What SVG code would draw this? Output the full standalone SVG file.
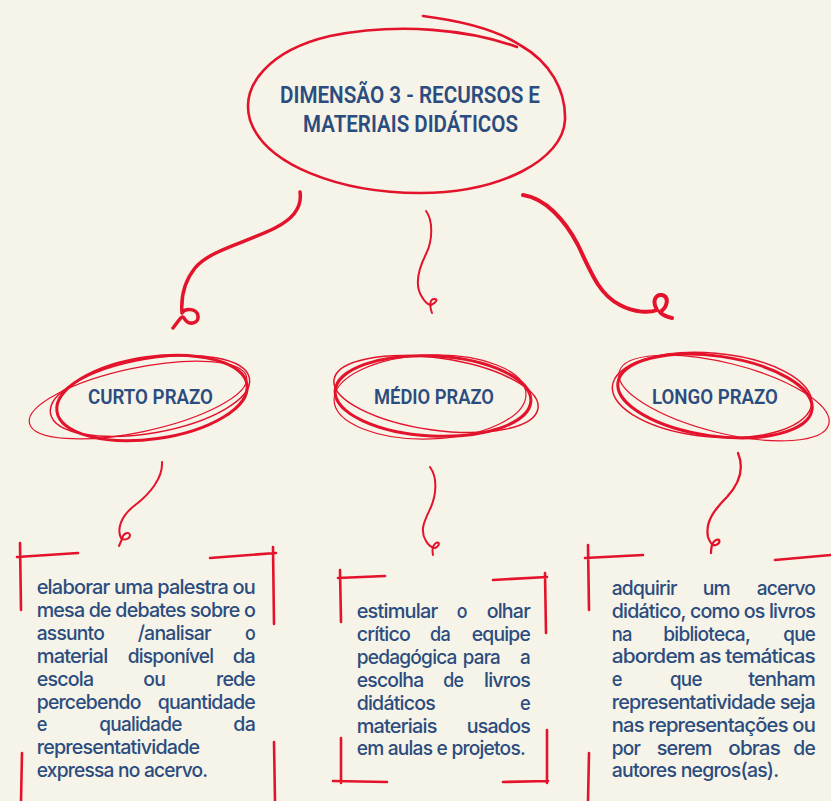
<svg xmlns="http://www.w3.org/2000/svg" width="831" height="801" viewBox="0 0 831 801">
<defs>
<style>
.bg{fill:#f6f3e8}
.red{fill:none;stroke:#e3132c;stroke-linecap:round;stroke-linejoin:round}
.hd{font-family:Roboto,"Liberation Sans",sans-serif;font-weight:600;fill:#2b4c7e}
.t1{font-size:24px}
.t2{font-size:21px}
.bd{font-family:Inter,"Noto Sans","Liberation Sans",sans-serif;font-weight:500;font-size:20px;fill:#2b4c7e;letter-spacing:-0.8px}
</style>
</defs>
<rect class="bg" x="0" y="0" width="831" height="801"/>

<g id="node-title">
<path class="red" stroke-width="2.6" d="M423,16 C470,22 500,32 520,45 C550,62 566,90 565,120 C563,160 500,193 420,193 C340,193 265,165 250,120 C240,85 270,50 330,36 C400,22 470,30 517,47"/>
<text class="hd t1" x="280" y="103" textLength="260" lengthAdjust="spacingAndGlyphs">DIMENSÃO 3 - RECURSOS E</text>
<text class="hd t1" x="303" y="132" textLength="215" lengthAdjust="spacingAndGlyphs">MATERIAIS DIDÁTICOS</text>
</g>

<g id="connectors">
<path class="red" stroke-width="3.5" d="M300,192 C302,205 295,218 275,228 C245,243 210,250 195,268 C183,283 181,300 182,313 C185,308 197,308 198,316 C199,324 188,326 184,318 C182,314 178,322 173,328"/>
<path class="red" stroke-width="2" d="M426,211 C433,220 433,240 426,254 C419,268 414,285 422,297 C425,302 428,305 431,305 C436,303 438,299 435,299 C430,298 429,305 432,313"/>
<path class="red" stroke-width="4" d="M523,195 C545,198 565,220 578,245 C592,275 600,295 620,305 C635,313 650,313 657,310 C652,302 655,294 662,295 C670,297 667,308 660,312 C663,316 667,317 672,318"/>
<path class="red" stroke-width="2" d="M162,462 C163,478 150,494 134,506 C120,517 117,530 121,538 C124,541 130,539 130,535 C129,531 123,533 122,539 L119,546"/>
<path class="red" stroke-width="2" d="M430,467 C438,478 436,495 431,507 C425,520 419,530 426,541 C429,546 432,548 435,548 C440,546 440,541 436,543 C433,545 432,550 433,555"/>
<path class="red" stroke-width="2.3" d="M738,453 C745,470 738,485 727,497 C714,510 705,522 708,537 C710,543 713,546 716,545 C721,543 720,538 716,540 C712,542 711,548 711,553"/>
</g>

<g id="node-curto">
<ellipse class="red" stroke-width="3" cx="152" cy="398" rx="96" ry="41" transform="rotate(-8 152 398)"/>
<ellipse class="red" stroke-width="1.5" cx="150" cy="396" rx="101" ry="37" transform="rotate(-10 150 396)"/>
<ellipse class="red" stroke-width="1.2" cx="138" cy="400" rx="111" ry="32" transform="rotate(-12 138 400)"/>
<text class="hd t2" x="88" y="404" textLength="125" lengthAdjust="spacingAndGlyphs">CURTO PRAZO</text>
</g>

<g id="node-medio">
<ellipse class="red" stroke-width="3" cx="433" cy="396" rx="98" ry="40" transform="rotate(3 433 396)"/>
<ellipse class="red" stroke-width="1.5" cx="436" cy="394" rx="103" ry="36" transform="rotate(8 436 394)"/>
<ellipse class="red" stroke-width="1.2" cx="430" cy="397" rx="96" ry="42" transform="rotate(-2 430 397)"/>
<text class="hd t2" x="374" y="404" textLength="120" lengthAdjust="spacingAndGlyphs">MÉDIO PRAZO</text>
</g>

<g id="node-longo">
<ellipse class="red" stroke-width="3" cx="715" cy="396" rx="98" ry="40" transform="rotate(8 715 396)"/>
<ellipse class="red" stroke-width="1.2" cx="724" cy="398" rx="108" ry="35" transform="rotate(14 724 398)"/>
<ellipse class="red" stroke-width="1.5" cx="712" cy="395" rx="100" ry="42" transform="rotate(5 712 395)"/>
<text class="hd t2" x="652" y="404" textLength="126" lengthAdjust="spacingAndGlyphs">LONGO PRAZO</text>
</g>

<g id="node-box1">
<path class="red" stroke-width="2.6" d="M20,543 L21,610 M17,557 L78,553 M210,558 L276,553 M273,547 L274,624 M22,753 L21,801 M274,742 L275,801"/>
<text class="bd" x="36.7" y="594" textLength="218.3" lengthAdjust="spacingAndGlyphs">elaborar uma palestra ou</text>
<text class="bd" x="36.7" y="617" textLength="218.3" lengthAdjust="spacingAndGlyphs">mesa de debates sobre o</text>
<text class="bd" x="36.7" y="640" textLength="67.3" lengthAdjust="spacingAndGlyphs">assunto</text>
<text class="bd" x="137.7" y="640" textLength="73" lengthAdjust="spacingAndGlyphs">/analisar</text>
<text class="bd" x="245" y="640" textLength="10" lengthAdjust="spacingAndGlyphs">o</text>
<text class="bd" x="36.7" y="663" textLength="70.7" lengthAdjust="spacingAndGlyphs">material</text>
<text class="bd" x="127.7" y="663" textLength="85.7" lengthAdjust="spacingAndGlyphs">disponível</text>
<text class="bd" x="232.7" y="663" textLength="22.3" lengthAdjust="spacingAndGlyphs">da</text>
<text class="bd" x="36.7" y="686" textLength="56.7" lengthAdjust="spacingAndGlyphs">escola</text>
<text class="bd" x="143.3" y="686" textLength="21.7" lengthAdjust="spacingAndGlyphs">ou</text>
<text class="bd" x="216" y="686" textLength="39" lengthAdjust="spacingAndGlyphs">rede</text>
<text class="bd" x="36.7" y="708.5" textLength="104" lengthAdjust="spacingAndGlyphs">percebendo</text>
<text class="bd" x="157.7" y="708.5" textLength="97.3" lengthAdjust="spacingAndGlyphs">quantidade</text>
<text class="bd" x="36.7" y="731" textLength="10" lengthAdjust="spacingAndGlyphs">e</text>
<text class="bd" x="99.3" y="731" textLength="82.3" lengthAdjust="spacingAndGlyphs">qualidade</text>
<text class="bd" x="233.3" y="731" textLength="21.7" lengthAdjust="spacingAndGlyphs">da</text>
<text class="bd" x="36.7" y="754" textLength="162.7" lengthAdjust="spacingAndGlyphs">representatividade</text>
<text class="bd" x="36.7" y="777" textLength="170.7" lengthAdjust="spacingAndGlyphs">expressa no acervo.</text>
</g>

<g id="node-box2">
<path class="red" stroke-width="2.6" d="M340,570 L341,622 M338,578 L385,576 M493,580 L547,577 M545,573 L546,633 M341,738 L341,783 M333,781 L387,782 M547,730 L547,783 M503,782 L548,781"/>
<text class="bd" x="356.7" y="618" textLength="80.7" lengthAdjust="spacingAndGlyphs">estimular</text>
<text class="bd" x="456.7" y="618" textLength="10" lengthAdjust="spacingAndGlyphs">o</text>
<text class="bd" x="486.7" y="618" textLength="43.3" lengthAdjust="spacingAndGlyphs">olhar</text>
<text class="bd" x="356.7" y="640.9" textLength="53.3" lengthAdjust="spacingAndGlyphs">crítico</text>
<text class="bd" x="430" y="640.9" textLength="20" lengthAdjust="spacingAndGlyphs">da</text>
<text class="bd" x="471.7" y="640.9" textLength="58.3" lengthAdjust="spacingAndGlyphs">equipe</text>
<text class="bd" x="356.7" y="663.8" textLength="100" lengthAdjust="spacingAndGlyphs">pedagógica</text>
<text class="bd" x="462.7" y="663.8" textLength="37.3" lengthAdjust="spacingAndGlyphs">para</text>
<text class="bd" x="520" y="663.8" textLength="10" lengthAdjust="spacingAndGlyphs">a</text>
<text class="bd" x="356.7" y="686.7" textLength="66.7" lengthAdjust="spacingAndGlyphs">escolha</text>
<text class="bd" x="443.3" y="686.7" textLength="20" lengthAdjust="spacingAndGlyphs">de</text>
<text class="bd" x="484" y="686.7" textLength="46" lengthAdjust="spacingAndGlyphs">livros</text>
<text class="bd" x="356.7" y="709.6" textLength="78.3" lengthAdjust="spacingAndGlyphs">didáticos</text>
<text class="bd" x="520" y="709.6" textLength="10" lengthAdjust="spacingAndGlyphs">e</text>
<text class="bd" x="356.7" y="732.5" textLength="80" lengthAdjust="spacingAndGlyphs">materiais</text>
<text class="bd" x="466.7" y="732.5" textLength="63.3" lengthAdjust="spacingAndGlyphs">usados</text>
<text class="bd" x="356.7" y="755.4" textLength="168.3" lengthAdjust="spacingAndGlyphs">em aulas e projetos.</text>
</g>

<g id="node-box3">
<path class="red" stroke-width="2.6" d="M588,545 L589,610 M585,558 L643,555 M775,560 L831,555 M589,753 L588,801"/>
<text class="bd" x="611.7" y="595" textLength="65" lengthAdjust="spacingAndGlyphs">adquirir</text>
<text class="bd" x="702.7" y="595" textLength="27.3" lengthAdjust="spacingAndGlyphs">um</text>
<text class="bd" x="756.7" y="595" textLength="58.3" lengthAdjust="spacingAndGlyphs">acervo</text>
<text class="bd" x="611.7" y="617.8" textLength="203.3" lengthAdjust="spacingAndGlyphs">didático, como os livros</text>
<text class="bd" x="611.7" y="640.6" textLength="20" lengthAdjust="spacingAndGlyphs">na</text>
<text class="bd" x="663.3" y="640.6" textLength="86.7" lengthAdjust="spacingAndGlyphs">biblioteca,</text>
<text class="bd" x="783.3" y="640.6" textLength="31.7" lengthAdjust="spacingAndGlyphs">que</text>
<text class="bd" x="611.7" y="663.4" textLength="203.3" lengthAdjust="spacingAndGlyphs">abordem as temáticas</text>
<text class="bd" x="611.7" y="686.2" textLength="10" lengthAdjust="spacingAndGlyphs">e</text>
<text class="bd" x="670" y="686.2" textLength="31.7" lengthAdjust="spacingAndGlyphs">que</text>
<text class="bd" x="748.3" y="686.2" textLength="66.7" lengthAdjust="spacingAndGlyphs">tenham</text>
<text class="bd" x="611.7" y="709" textLength="203.3" lengthAdjust="spacingAndGlyphs">representatividade seja</text>
<text class="bd" x="611.7" y="731.8" textLength="203.3" lengthAdjust="spacingAndGlyphs">nas representações ou</text>
<text class="bd" x="611.7" y="754.6" textLength="28.3" lengthAdjust="spacingAndGlyphs">por</text>
<text class="bd" x="656.7" y="754.6" textLength="55" lengthAdjust="spacingAndGlyphs">serem</text>
<text class="bd" x="728.3" y="754.6" textLength="51.7" lengthAdjust="spacingAndGlyphs">obras</text>
<text class="bd" x="793.3" y="754.6" textLength="21.7" lengthAdjust="spacingAndGlyphs">de</text>
<text class="bd" x="611.7" y="777.4" textLength="166.7" lengthAdjust="spacingAndGlyphs">autores negros(as).</text>
</g>
</svg>
